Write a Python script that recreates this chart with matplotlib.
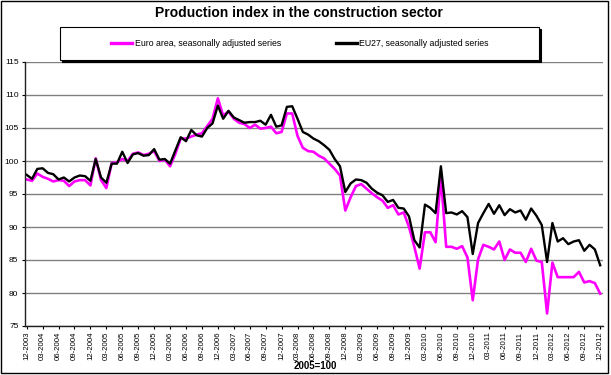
import matplotlib
matplotlib.use("Agg")
import matplotlib.pyplot as plt
from matplotlib.patches import Rectangle
import numpy as np

plt.rcParams['font.family'] = ['Liberation Sans', 'DejaVu Sans']

# ---- data (monthly, 12-2003 .. 12-2012) ----
months = ["12", "01", "02", "03", "04", "05", "06", "07", "08", "09", "10", "11"]
start_year = 2003
n_points = 109

euro_area = [
    97.2, 97.0, 98.1, 97.6, 97.3, 96.9, 97.1, 97.0, 96.2, 96.9,
    97.1, 97.1, 96.3, 100.4, 97.1, 95.9, 99.7, 99.8, 100.3, 100.0,
    101.1, 101.3, 100.9, 101.1, 101.5, 100.0, 100.2, 99.2, 101.1, 103.4,
    103.4, 103.7, 104.0, 104.2, 105.3, 106.4, 109.5, 106.9, 107.5, 106.4,
    105.8, 105.6, 105.0, 105.5, 104.9, 105.0, 105.2, 104.2, 104.4, 107.2,
    107.2, 103.8, 102.0, 101.5, 101.4, 100.8, 100.4, 99.6, 98.8, 97.8,
    92.5, 94.5, 96.2, 96.5, 95.8, 95.1, 94.5, 94.0, 92.9, 93.3,
    91.9, 92.2, 90.0, 87.0, 83.7, 89.2, 89.2, 87.7, 97.6, 87.0,
    87.0, 86.7, 87.1, 85.4, 78.9, 85.1, 87.3, 87.0, 86.6, 87.8,
    85.0, 86.6, 86.1, 86.1, 84.7, 86.7, 84.9, 84.7, 76.9, 84.6,
    82.4, 82.4, 82.4, 82.4, 83.2, 81.6, 81.8, 81.5, 79.9,
]

eu27 = [
    97.9, 97.3, 98.8, 98.9, 98.2, 98.0, 97.2, 97.5, 96.9, 97.5,
    97.8, 97.7, 97.0, 100.3, 97.5, 96.7, 99.6, 99.6, 101.4, 99.7,
    101.0, 101.2, 100.8, 100.9, 101.8, 100.2, 100.3, 99.6, 101.6, 103.6,
    103.0, 104.7, 103.9, 103.7, 105.0, 105.7, 108.4, 106.4, 107.6, 106.6,
    106.2, 105.8, 105.9, 105.9, 106.1, 105.5, 107.0, 105.2, 105.4, 108.2,
    108.3, 106.4, 104.4, 104.0, 103.4, 103.0, 102.4, 101.7, 100.3, 99.2,
    95.3, 96.6, 97.2, 97.1, 96.7, 95.8, 95.2, 94.8, 93.8, 94.1,
    92.9, 92.8, 91.6, 88.0, 86.9, 93.4, 92.9, 92.1, 99.2, 92.1,
    92.2, 91.9, 92.4, 91.5, 85.9, 90.6, 92.1, 93.5, 92.0, 93.3,
    91.8, 92.7, 92.2, 92.5, 91.1, 92.8, 91.7, 90.3, 84.7, 90.6,
    87.8, 88.3, 87.4, 87.8, 88.0, 86.4, 87.3, 86.6, 84.2,
]

series_labels = ["Euro area, seasonally adjusted series",
                 "EU27, seasonally adjusted series"]
title = "Production index in the construction sector"
base_note = "2005=100"

# tick labels every 3 months
tick_labels = []
for i in range(n_points):
    m = months[i % 12]
    y = start_year + (i + 11) // 12
    tick_labels.append(f"{m}-{y}")
tick_pos = list(range(0, n_points, 3))
tick_text = [tick_labels[i] for i in tick_pos]

# ---- figure ----
W, H = 611, 375
fig = plt.figure(figsize=(W / 100, H / 100), dpi=100)
fig.patch.set_facecolor("white")

def fy(p):
    return 1 - p / H

ax = fig.add_axes([25 / W, (H - 326) / H, (603 - 25) / W, (326 - 62) / H])
x = np.arange(n_points)
l1, = ax.plot(x, euro_area, color="#FF00FF", lw=1.9, label=series_labels[0])
l2, = ax.plot(x, eu27, color="black", lw=1.7, label=series_labels[1])

ax.set_xlim(-0.32, 108.53)
ax.set_ylim(75, 115)
ax.set_yticks(range(75, 116, 5))
ax.set_xticks(tick_pos)
ax.set_xticklabels(tick_text, rotation=90, ha="center", va="top")
ax.tick_params(axis="x", direction="out", length=2.2, width=0.8, pad=1.8, labelsize=5.6)
ax.tick_params(axis="y", direction="out", length=2.2, width=0.8, pad=2.5, labelsize=6)

ax.yaxis.grid(True, color="#808080", lw=1.0)
ax.set_axisbelow(True)
for s in ["top", "right"]:
    ax.spines[s].set_visible(False)
ax.spines["left"].set_color("#202020")
ax.spines["bottom"].set_color("#202020")
ax.spines["left"].set_linewidth(1.0)
ax.spines["bottom"].set_linewidth(1.0)

# title and note
fig.text(299 / W, fy(13), title, ha="center", va="center",
         fontsize=10, fontweight="bold")
fig.text(315 / W, fy(366), base_note, ha="center", va="center",
         fontsize=7, fontweight="bold")

# legend box with shadow
bx0, bx1, by0, by1 = 60, 539, 27, 60
fig.patches.append(Rectangle(((bx0 + 2) / W, fy(by1 + 2)), (bx1 - bx0) / W, (by1 - by0) / H,
                             transform=fig.transFigure, facecolor="black",
                             edgecolor="black", lw=0.8, zorder=3))
fig.patches.append(Rectangle((bx0 / W, fy(by1)), (bx1 - bx0) / W, (by1 - by0) / H,
                             transform=fig.transFigure, facecolor="white",
                             edgecolor="black", lw=0.8, zorder=4))
leg = fig.legend(handles=[l1, l2], loc="center",
                 bbox_to_anchor=(300 / W, fy(43.5)), bbox_transform=fig.transFigure,
                 ncol=2, frameon=False, fontsize=6.3, handlelength=2.4,
                 handletextpad=0.25, columnspacing=6.3, borderaxespad=0)
leg.set_zorder(6)
for h in leg.get_lines():
    h.set_linewidth(2.4)

# outer frame
fig.patches.append(Rectangle((0.5 / W, fy(373)), 607.5 / W, 372.5 / H,
                             transform=fig.transFigure, facecolor="none",
                             edgecolor="black", lw=1.0, zorder=2))

fig.savefig("out.png", dpi=100)
